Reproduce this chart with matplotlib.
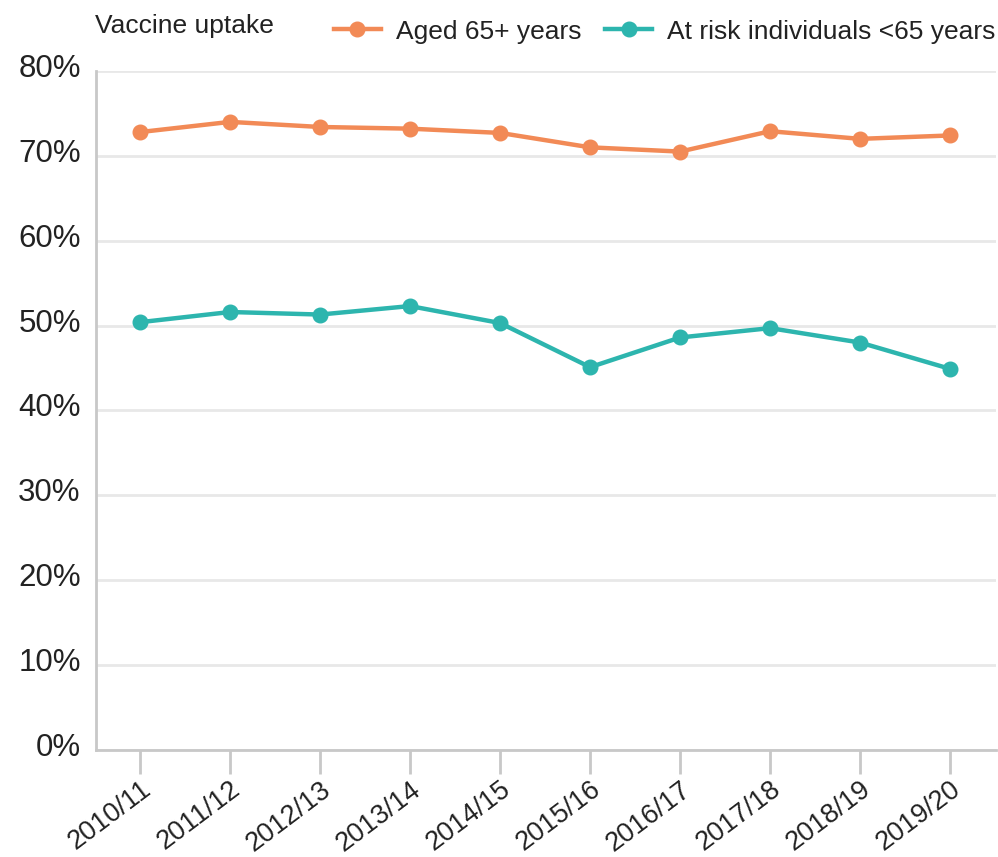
import matplotlib
matplotlib.use("Agg")
import matplotlib.pyplot as plt
import matplotlib.transforms as mtransforms
from matplotlib.ticker import FuncFormatter

plt.rcParams["font.family"] = ["Liberation Sans", "DejaVu Sans"]

seasons = ["2010/11", "2011/12", "2012/13", "2013/14", "2014/15",
           "2015/16", "2016/17", "2017/18", "2018/19", "2019/20"]
aged_65_plus = [72.8, 74.0, 73.4, 73.2, 72.7, 71.0, 70.5, 72.9, 72.0, 72.4]
at_risk_under_65 = [50.4, 51.6, 51.3, 52.3, 50.3, 45.1, 48.6, 49.7, 48.0, 44.9]
yticks = [0, 10, 20, 30, 40, 50, 60, 70, 80]

ORANGE = "#f28a56"
TEAL = "#2db5ae"
GRID = "#e8e8e8"
SPINE = "#c8c8c8"
TEXT = "#222222"

fig = plt.figure(figsize=(9.98, 8.57), dpi=100)
ax = fig.add_axes([0.0962, 0.1249, 0.9018, 0.7923])

x = range(len(seasons))
ax.plot(x, aged_65_plus, color=ORANGE, lw=3.2, marker="o", ms=10.5,
        label="Aged 65+ years", zorder=3)
ax.plot(x, at_risk_under_65, color=TEAL, lw=3.2, marker="o", ms=10.5,
        label="At risk individuals <65 years", zorder=3)

ax.set_xlim(-0.49, 9.51)
ax.set_ylim(0, 80)
ax.set_yticks(yticks)
ax.yaxis.set_major_formatter(FuncFormatter(lambda v, _: f"{v:.0f}%"))
ax.set_xticks(list(x))
ax.set_xticklabels(seasons, rotation=37, ha="right", rotation_mode="anchor",
                   fontsize=19.5, color=TEXT)
ax.tick_params(axis="y", length=0, pad=11, labelsize=22.5, labelcolor=TEXT)
ax.tick_params(axis="x", length=17, width=2, color=SPINE, pad=2)

# nudge y labels up a little, as in the reference
shift = mtransforms.ScaledTranslation(0, 4 / 72, fig.dpi_scale_trans)
for lbl in ax.get_yticklabels():
    lbl.set_transform(lbl.get_transform() + shift)

ax.grid(axis="y", color=GRID, lw=2)
ax.set_axisbelow(True)
for side in ("top", "right"):
    ax.spines[side].set_visible(False)
for side in ("left", "bottom"):
    ax.spines[side].set_color(SPINE)
    ax.spines[side].set_linewidth(2)

fig.text(0.095, 0.970, "Vaccine uptake", fontsize=19, color=TEXT,
         va="center", ha="left")
leg = fig.legend(loc="center right", bbox_to_anchor=(1.0, 0.963), ncol=2,
                 frameon=False, fontsize=19, handlelength=1.8,
                 handletextpad=0.55, columnspacing=0.9, labelcolor=TEXT,
                 borderaxespad=0.0, borderpad=0.1)

fig.savefig("out.png", dpi=100)
